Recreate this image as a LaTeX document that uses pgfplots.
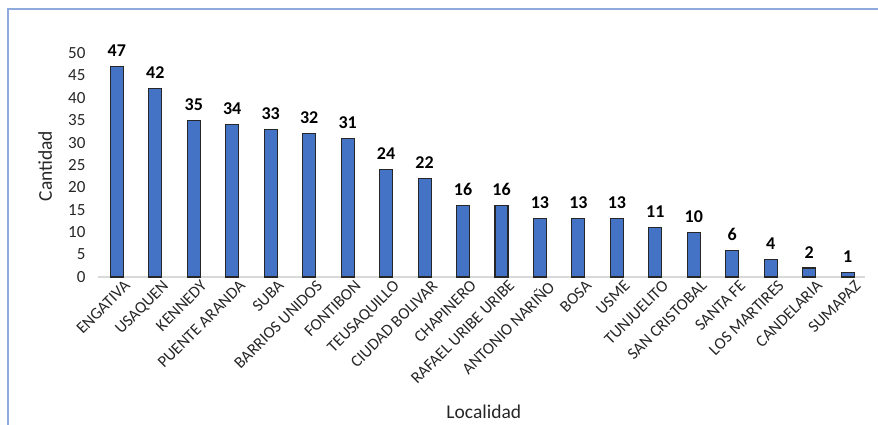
\documentclass[border=0pt]{standalone}
\usepackage{fontspec}
\setmainfont{Carlito}
\usepackage{pgfplots}
\pgfplotsset{compat=1.18}
\definecolor{barblue}{HTML}{4472C4}
\definecolor{framec}{HTML}{8FAADC}
\definecolor{txt}{HTML}{262626}
\begin{document}
\begin{tikzpicture}
\useasboundingbox (-98bp,-148bp) rectangle (780bp,277bp);
\draw[framec, line width=1.5bp] (-90bp,-150bp) -- (-90bp,268bp) -- (782bp,268bp);
\begin{axis}[
  at={(0,0)}, anchor=south west,
  scale only axis,
  width=767bp, height=246.4bp,
  xmin=-0.49, xmax=19.45,
  ymin=0, ymax=55,
  ytick={0,5,...,50},
  xtick={0,...,19},
  xticklabels={ENGATIVA,USAQUEN,KENNEDY,PUENTE ARANDA,SUBA,BARRIOS UNIDOS,FONTIBON,TEUSAQUILLO,CIUDAD BOLIVAR,CHAPINERO,RAFAEL URIBE URIBE,ANTONIO NARIÑO,BOSA,USME,TUNJUELITO,SAN CRISTOBAL,SANTA FE,LOS MARTIRES,CANDELARIA,SUMAPAZ},
  axis x line*=bottom,
  axis y line*=left,
  x axis line style={draw=black!15, line width=1.6bp, -},
  y axis line style={draw=none},
  major tick length=0pt,
  tick style={draw=none},
  /pgf/number format/assume math mode=true,
  yticklabel style={font=\fontsize{17bp}{20bp}\selectfont, text=txt, anchor=east, xshift=-9bp},
  xticklabel style={font=\fontsize{16.5bp}{19bp}\selectfont, text=txt, rotate=45, anchor=north east, xshift=4bp, yshift=-5bp, inner sep=1bp},
  every axis y label/.style={at={(axis description cs:-0.069,0.45)}, rotate=90, anchor=center, font=\fontsize{19.5bp}{22bp}\selectfont, text=txt},
  every axis x label/.style={at={(axis description cs:0.503,-0.548)}, anchor=center, font=\fontsize{19.5bp}{22bp}\selectfont, text=txt},
  ylabel={Cantidad},
  xlabel={Localidad},
  clip=false,
]
\addplot[ybar, bar width=13bp, fill=barblue, draw=black!85, line width=1.1bp,
  nodes near coords,
  every node near coord/.append style={font=\bfseries\fontsize{18bp}{21bp}\selectfont, text=black, yshift=6bp}]
coordinates {
(0,47) (1,42) (2,35) (3,34) (4,33) (5,32) (6,31) (7,24) (8,22) (9,16)
(10,16) (11,13) (12,13) (13,13) (14,11) (15,10) (16,6) (17,4) (18,2) (19,1)
};
\end{axis}
\end{tikzpicture}
\end{document}
